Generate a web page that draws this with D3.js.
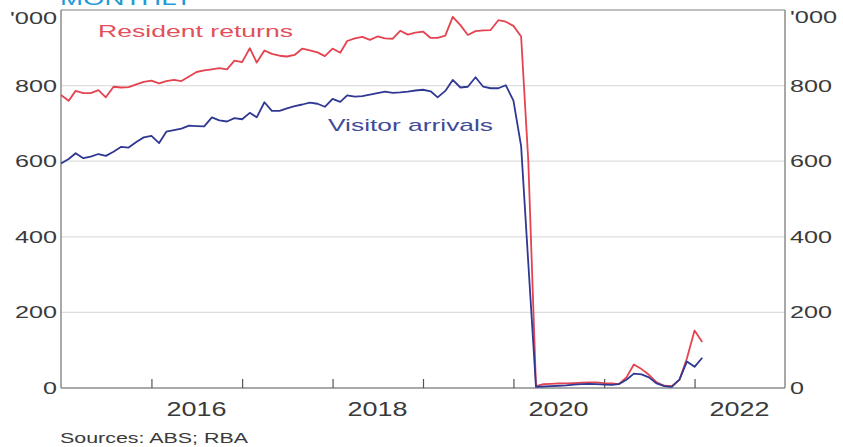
<!DOCTYPE html>
<html>
<head>
<meta charset="utf-8">
<script src="https://cdn.jsdelivr.net/npm/d3@7"></script>
<style>
  html, body { margin: 0; padding: 0; background: #fff; }
  svg { display: block; }
  text { font-family: "Liberation Sans", Arial, sans-serif; }
</style>
</head>
<body>
<svg id="chart" width="843" height="447"></svg>
<script>
// ---- Data (thousands, monthly from Jan 2015) ----
const startMonth = "2015-01";
const residentReturns = [
  775, 760, 786, 780, 780, 788, 769, 797, 795, 796, 803, 810,
  813, 806, 812, 815, 812, 824, 836, 840, 843, 846, 843, 866,
  862, 899, 861, 893, 884, 879, 877, 881, 898, 893, 888, 878,
  898, 887, 918, 925, 929, 921, 930, 925, 924, 945, 935, 940,
  943, 926, 926, 932, 982, 960, 934, 944, 946, 947, 973, 969,
  958, 930, 600, 5, 10, 11, 12, 12, 13, 14, 15, 15,
  13, 12, 10, 28, 62, 50, 35, 15, 6, 5, 22, 78,
  152, 122
];
const visitorArrivals = [
  594, 606, 621, 608, 612, 619, 614, 625, 638, 636, 651, 663,
  667, 648, 678, 682, 686, 694, 693, 692, 716, 708, 705, 714,
  711, 728, 716, 756, 733, 733, 740, 746, 750, 755, 752, 744,
  765, 757, 774, 771, 772, 776, 780, 784, 781, 782, 784, 787,
  789, 785, 769, 786, 815, 795, 797, 822, 797, 793, 793, 801,
  760, 640, 330, 3, 4, 5, 6, 7, 9, 10, 11, 10,
  9, 8, 10, 22, 38, 36, 28, 12, 5, 3, 22, 70,
  56, 80
];
const yTicks = [0, 200, 400, 600, 800];
const unitLabel = "'000";
const yearTicks = [2016, 2017, 2018, 2019, 2020, 2021, 2022];
const yearLabels = [2016, 2018, 2020, 2022];
const seriesNames = ["Resident returns", "Visitor arrivals"];
const titleText = "MONTHLY";
const sourceText = "Sources: ABS; RBA";

// ---- Layout ----
const svg = d3.select("#chart");
const L = 61, R = 785, T = 10, B = 388;
const redCol = "#e4434f", blueCol = "#2f3892";
const SX = 14; // px per digit (text is horizontally stretched)

const parse = d3.timeParse("%Y-%m");
const t0 = parse(startMonth);
const dates = d3.timeMonth.range(t0, d3.timeMonth.offset(t0, residentReturns.length));

const x = d3.scaleTime()
  .domain([new Date(2015, 0, 1), new Date(2023, 0, 1)])
  .range([L, R]);
const y = d3.scaleLinear().domain([0, 1000]).range([B, T]);

// Gridlines
svg.append("g")
  .selectAll("line")
  .data(yTicks.filter(d => d > 0))
  .join("line")
  .attr("x1", L).attr("x2", R)
  .attr("y1", d => y(d)).attr("y2", d => y(d))
  .attr("stroke", "#dedede").attr("stroke-width", 1.2);

// Top border
svg.append("line")
  .attr("x1", L).attr("x2", R).attr("y1", y(1000)).attr("y2", y(1000))
  .attr("stroke", "#a8a8a8").attr("stroke-width", 1.5);

// Left axis
const gl = svg.append("g").attr("transform", `translate(${L},0)`)
  .call(d3.axisLeft(y).tickValues(yTicks).tickSize(0).tickPadding(4).tickFormat(d3.format("d")));
gl.select(".domain").attr("stroke", "#8c8c8c").attr("stroke-width", 1.5)
  .attr("d", `M0,${y(1000)}V${B}`);
gl.selectAll("text")
  .attr("font-size", 17).attr("fill", "#3a3a3a")
  .attr("font-family", "Liberation Sans, Arial, sans-serif")
  .attr("textLength", d => String(d).length * SX)
  .attr("lengthAdjust", "spacingAndGlyphs");

// Right axis
const gr = svg.append("g").attr("transform", `translate(${R},0)`)
  .call(d3.axisRight(y).tickValues(yTicks).tickSize(0).tickPadding(5).tickFormat(d3.format("d")));
gr.select(".domain").attr("stroke", "#8c8c8c").attr("stroke-width", 1.5)
  .attr("d", `M0,${y(1000)}V${B}`);
gr.selectAll("text")
  .attr("font-size", 17).attr("fill", "#3a3a3a")
  .attr("font-family", "Liberation Sans, Arial, sans-serif")
  .attr("textLength", d => String(d).length * SX)
  .attr("lengthAdjust", "spacingAndGlyphs");

// unit labels
svg.append("text").text(unitLabel)
  .attr("x", L - 4).attr("y", y(1000) + 9).attr("dy", "0.32em")
  .attr("text-anchor", "end").attr("font-size", 17).attr("fill", "#3a3a3a")
  .attr("textLength", 47).attr("lengthAdjust", "spacingAndGlyphs");
svg.append("text").text(unitLabel)
  .attr("x", R + 5).attr("y", y(1000) + 8).attr("dy", "0.32em")
  .attr("text-anchor", "start").attr("font-size", 17).attr("fill", "#3a3a3a")
  .attr("textLength", 47).attr("lengthAdjust", "spacingAndGlyphs");

// Bottom axis
const gb = svg.append("g").attr("transform", `translate(0,${B})`)
  .call(d3.axisBottom(x)
    .tickValues(yearTicks.map(yr => new Date(yr, 0, 1)))
    .tickSize(-9).tickFormat(""));
gb.select(".domain").attr("stroke", "#8c8c8c").attr("stroke-width", 1.5)
  .attr("d", `M${L},0H${R}`);
gb.selectAll(".tick line").attr("stroke", "#555").attr("stroke-width", 1.2);

svg.append("g").selectAll("text")
  .data(yearLabels)
  .join("text")
  .attr("x", d => x(new Date(d, 6, 1)))
  .attr("y", 148).attr("dy", "0.35em")
  .attr("transform", `translate(0,${0})`)
  .attr("y", 409).attr("text-anchor", "middle")
  .attr("font-size", 20).attr("fill", "#3a3a3a")
  .attr("textLength", 60).attr("lengthAdjust", "spacingAndGlyphs")
  .text(d => d);

// Lines
const line = d3.line()
  .x((d, i) => x(dates[i]))
  .y(d => y(d));

svg.append("path").datum(residentReturns)
  .attr("d", line).attr("fill", "none")
  .attr("stroke", redCol).attr("stroke-width", 1.8).attr("stroke-linejoin", "round");
svg.append("path").datum(visitorArrivals)
  .attr("d", line).attr("fill", "none")
  .attr("stroke", blueCol).attr("stroke-width", 1.8).attr("stroke-linejoin", "round");

// Series labels
svg.append("text").text(seriesNames[0])
  .attr("x", 98).attr("y", 31).attr("dy", "0.35em")
  .attr("font-size", 17).attr("fill", "#e2505b")
  .attr("textLength", 195).attr("lengthAdjust", "spacingAndGlyphs");
svg.append("text").text(seriesNames[1])
  .attr("x", 328).attr("y", 125).attr("dy", "0.35em")
  .attr("font-size", 17).attr("fill", "#3f4a98")
  .attr("textLength", 165).attr("lengthAdjust", "spacingAndGlyphs");

// Title (clipped at top)
svg.append("text").text(titleText)
  .attr("x", 60).attr("y", 5)
  .attr("font-size", 19).attr("fill", "#1f9ad6")
  .attr("textLength", 133).attr("lengthAdjust", "spacingAndGlyphs");

// Source
svg.append("text").text(sourceText)
  .attr("x", 60).attr("y", 438).attr("dy", "0.35em")
  .attr("font-size", 14).attr("fill", "#3a3a3a")
  .attr("textLength", 188).attr("lengthAdjust", "spacingAndGlyphs");
</script>
</body>
</html>
